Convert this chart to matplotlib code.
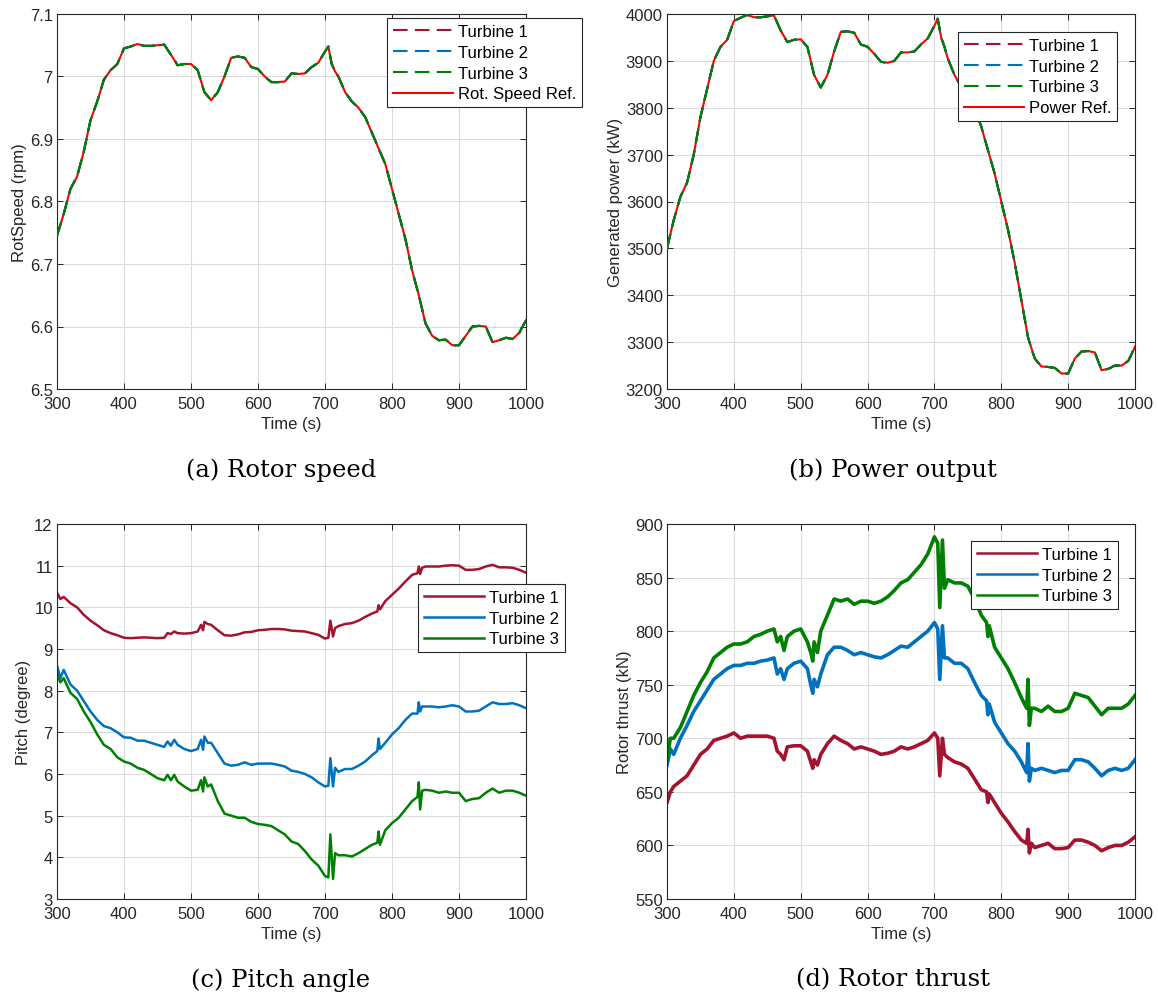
import numpy as np
import matplotlib
matplotlib.use("Agg")
import matplotlib.pyplot as plt

plt.rcParams["font.family"] = ["Liberation Sans", "DejaVu Sans"]

# time grid for rotor speed / power
t_ab = np.array([300, 310, 320, 330, 340, 350, 360, 370, 380, 390,
                 400, 410, 420, 430, 440, 450, 460, 470, 480, 490,
                 500, 510, 520, 530, 540, 550, 560, 570, 580, 590,
                 600, 610, 620, 630, 640, 650, 660, 670, 680, 690,
                 700, 705, 710, 715, 720, 730, 740, 750, 760, 770,
                 780, 790, 800, 810, 820, 830, 840, 850, 860, 870,
                 880, 890, 900, 910, 920, 930, 940, 950, 960, 970,
                 980, 990, 1000])

rot_speed = np.array([6.745, 6.78, 6.82, 6.84, 6.88, 6.93, 6.96, 6.995, 7.01, 7.02,
                      7.045, 7.048, 7.052, 7.049, 7.049, 7.05, 7.051, 7.035, 7.018, 7.02,
                      7.02, 7.01, 6.975, 6.962, 6.975, 7.0, 7.03, 7.032, 7.03, 7.015,
                      7.012, 7.0, 6.991, 6.991, 6.992, 7.005, 7.004, 7.005, 7.015, 7.022,
                      7.04, 7.048, 7.02, 7.008, 7.0, 6.975, 6.96, 6.95, 6.935, 6.91,
                      6.885, 6.86, 6.82, 6.78, 6.74, 6.69, 6.65, 6.605, 6.585, 6.578,
                      6.579, 6.57, 6.57, 6.585, 6.6, 6.601, 6.6, 6.575, 6.578, 6.582,
                      6.58, 6.59, 6.61])

power = np.array([3500, 3560, 3610, 3640, 3700, 3780, 3840, 3900, 3930, 3945,
                  3985, 3992, 3998, 3993, 3993, 3995, 3997, 3965, 3940, 3945,
                  3946, 3930, 3870, 3843, 3870, 3920, 3962, 3963, 3960, 3935,
                  3930, 3915, 3898, 3896, 3900, 3918, 3918, 3920, 3935, 3948,
                  3975, 3990, 3950, 3930, 3905, 3870, 3845, 3825, 3800, 3760,
                  3710, 3660, 3600, 3540, 3470, 3390, 3310, 3265, 3248, 3247,
                  3245, 3233, 3233, 3265, 3280, 3281, 3278, 3240, 3243, 3250,
                  3250, 3260, 3290])

# time grid for pitch / thrust
t_cd = np.array([300, 305, 310, 320, 330, 340, 350, 360, 370, 380,
                 390, 400, 410, 420, 430, 440, 450, 460, 465, 470,
                 475, 480, 490, 500, 510, 515, 518, 520, 525, 530,
                 540, 550, 560, 570, 580, 590, 600, 610, 620, 630,
                 640, 650, 660, 670, 680, 690, 700, 705, 708, 712,
                 715, 720, 730, 740, 750, 760, 770, 778, 780, 782,
                 790, 800, 810, 820, 830, 838, 840, 842, 845, 850,
                 860, 870, 880, 890, 900, 910, 920, 930, 940, 950,
                 960, 970, 980, 990, 1000])

pitch1 = [10.35, 10.2, 10.25, 10.1, 10.0, 9.82, 9.68, 9.57, 9.45, 9.38,
          9.33, 9.27, 9.26, 9.27, 9.28, 9.27, 9.26, 9.27, 9.38, 9.36,
          9.42, 9.38, 9.37, 9.38, 9.42, 9.58, 9.45, 9.65, 9.6, 9.58,
          9.45, 9.33, 9.32, 9.35, 9.4, 9.41, 9.45, 9.46, 9.48, 9.48,
          9.47, 9.44, 9.43, 9.42, 9.38, 9.34, 9.25, 9.27, 9.68, 9.3,
          9.5, 9.55, 9.6, 9.62, 9.68, 9.77, 9.85, 9.9, 10.05, 9.95,
          10.15, 10.3, 10.45, 10.62, 10.78, 10.82, 10.98, 10.8, 10.95, 10.98,
          10.98, 10.98, 11.0, 11.01, 11.0, 10.9, 10.9, 10.92, 10.98, 11.02,
          10.96, 10.96, 10.95, 10.9, 10.83]
pitch2 = [8.6, 8.3, 8.5, 8.15, 8.0, 7.75, 7.5, 7.3, 7.15, 7.1,
          7.0, 6.88, 6.87, 6.8, 6.8, 6.75, 6.7, 6.65, 6.78, 6.68,
          6.82, 6.7, 6.6, 6.55, 6.6, 6.82, 6.58, 6.9, 6.75, 6.75,
          6.5, 6.25, 6.2, 6.22, 6.28, 6.22, 6.25, 6.25, 6.25, 6.22,
          6.18, 6.08, 6.05, 6.0, 5.92, 5.8, 5.7, 5.72, 6.38, 5.7,
          6.15, 6.05, 6.12, 6.12, 6.2, 6.3, 6.45, 6.55, 6.85, 6.6,
          6.75, 6.95, 7.1, 7.3, 7.45, 7.45, 7.72, 7.5, 7.62, 7.62,
          7.62, 7.6, 7.62, 7.65, 7.62, 7.5, 7.5, 7.52, 7.62, 7.72,
          7.68, 7.68, 7.7, 7.65, 7.58]
pitch3 = [8.4, 8.2, 8.3, 7.95, 7.8, 7.5, 7.25, 6.95, 6.7, 6.6,
          6.4, 6.3, 6.25, 6.15, 6.1, 6.0, 5.9, 5.85, 5.98, 5.85,
          5.98, 5.82, 5.7, 5.6, 5.62, 5.85, 5.58, 5.92, 5.7, 5.75,
          5.35, 5.05, 5.0, 4.95, 4.95, 4.85, 4.8, 4.78, 4.75, 4.65,
          4.55, 4.38, 4.32, 4.15, 3.95, 3.8, 3.55, 3.52, 4.55, 3.48,
          4.1, 4.05, 4.05, 4.02, 4.1, 4.2, 4.3, 4.35, 4.62, 4.3,
          4.65, 4.82, 4.95, 5.15, 5.35, 5.45, 5.8, 5.15, 5.6, 5.62,
          5.6, 5.55, 5.58, 5.55, 5.55, 5.35, 5.4, 5.42, 5.55, 5.65,
          5.55, 5.6, 5.6, 5.55, 5.48]

thrust1 = [640, 650, 655, 660, 665, 675, 685, 690, 698, 700,
           702, 705, 700, 702, 702, 702, 702, 700, 688, 685,
           680, 692, 693, 693, 688, 678, 672, 680, 675, 685,
           695, 702, 698, 695, 690, 692, 690, 688, 685, 686,
           688, 692, 690, 692, 695, 698, 705, 700, 665, 700,
           685, 682, 678, 676, 672, 662, 652, 650, 640, 648,
           640, 630, 622, 613, 605, 602, 615, 593, 602, 598,
           600, 602, 597, 597, 598, 605, 605, 603, 600, 595,
           598, 600, 600, 603, 608]
thrust2 = [675, 690, 685, 700, 712, 725, 735, 745, 755, 760,
           765, 768, 768, 770, 770, 772, 773, 775, 760, 765,
           755, 765, 770, 772, 765, 750, 742, 755, 748, 760,
           778, 785, 785, 782, 778, 780, 778, 776, 775, 778,
           782, 786, 785, 790, 795, 800, 808, 802, 755, 805,
           775, 775, 770, 770, 765, 752, 740, 735, 722, 732,
           715, 705, 695, 688, 678, 668, 695, 660, 672, 670,
           672, 670, 668, 670, 670, 680, 680, 678, 672, 665,
           670, 672, 670, 672, 680]
thrust3 = [680, 700, 700, 710, 725, 740, 752, 762, 775, 780,
           785, 788, 788, 790, 795, 797, 800, 802, 790, 795,
           782, 795, 800, 802, 790, 780, 772, 790, 780, 800,
           815, 830, 828, 830, 825, 828, 828, 826, 828, 832,
           838, 845, 848, 855, 862, 872, 888, 882, 822, 885,
           840, 848, 845, 845, 842, 830, 815, 808, 795, 805,
           785, 775, 765, 752, 738, 728, 755, 712, 728, 728,
           725, 730, 725, 725, 728, 742, 740, 738, 730, 722,
           728, 728, 728, 732, 740]

turbines = ["Turbine 1", "Turbine 2", "Turbine 3"]
colors = ["#A2142F", "#0072BD", "#008000"]

W, H = 1158, 995
fig = plt.figure(figsize=(W / 100, H / 100), dpi=100)


def make_ax(x0, y0, x1, y1):
    ax = fig.add_axes([x0 / W, 1 - y1 / H, (x1 - x0) / W, (y1 - y0) / H])
    ax.grid(True, color="#dcdcdc", lw=0.8)
    ax.set_axisbelow(True)
    ax.tick_params(direction="in", top=True, right=True, labelsize=12,
                   length=4, colors="#262626", width=0.7)
    ax.tick_params(axis="x", pad=5)
    ax.tick_params(axis="y", pad=3)
    for s in ax.spines.values():
        s.set_color("#262626")
        s.set_linewidth(0.8)
    ax.set_xlim(300, 1000)
    ax.set_xticks(range(300, 1001, 100))
    ax.set_xlabel("Time (s)", fontsize=12, labelpad=4, color="#262626")
    return ax


def style_legend(ax, anchor):
    leg = ax.legend(loc="upper right", bbox_to_anchor=anchor, fontsize=12,
                    fancybox=False, framealpha=1, edgecolor="#262626",
                    handlelength=3.6, handletextpad=0.3, borderpad=0.35,
                    borderaxespad=0, labelspacing=0.35)
    leg.get_frame().set_linewidth(0.8)
    return leg


DASH = (7, 3.5)

# (a) rotor speed
ax = make_ax(57, 15, 526, 390)
ax.plot(t_ab, rot_speed, color="red", lw=1.5, zorder=2, label="_ref")
for name, c in zip(turbines, colors):
    ax.plot(t_ab, rot_speed, color=c, lw=1.5, dashes=DASH, label=name, zorder=3)
ax.plot([], [], color="red", lw=1.5, label="Rot. Speed Ref.")
ax.set_ylim(6.5, 7.1)
ax.set_yticks([6.5, 6.6, 6.7, 6.8, 6.9, 7.0, 7.1])
ax.set_yticklabels(["6.5", "6.6", "6.7", "6.8", "6.9", "7", "7.1"])
ax.set_ylabel("RotSpeed (rpm)", fontsize=12, labelpad=2, color="#262626")
style_legend(ax, (1.12, 0.989))

# (b) power
ax = make_ax(667, 15, 1135, 390)
ax.plot(t_ab, power, color="red", lw=1.5, zorder=2, label="_ref")
for name, c in zip(turbines, colors):
    ax.plot(t_ab, power, color=c, lw=1.5, dashes=DASH, label=name, zorder=3)
ax.plot([], [], color="red", lw=1.5, label="Power Ref.")
ax.set_ylim(3200, 4000)
ax.set_yticks(range(3200, 4001, 100))
ax.set_ylabel("Generated power (kW)", fontsize=12, labelpad=2, color="#262626")
style_legend(ax, (0.962, 0.952))

# (c) pitch
ax = make_ax(57, 525, 526, 900)
for name, c, y in zip(turbines, colors, [pitch1, pitch2, pitch3]):
    ax.plot(t_cd, y, color=c, lw=1.8, label=name)
ax.set_ylim(3, 12)
ax.set_yticks(range(3, 13))
ax.set_ylabel("Pitch (degree)", fontsize=12, labelpad=2, color="#262626")
style_legend(ax, (1.083, 0.84))

# (d) thrust
ax = make_ax(667, 525, 1135, 900)
for name, c, y in zip(turbines, colors, [thrust1, thrust2, thrust3]):
    ax.plot(t_cd, y, color=c, lw=2.6, label=name)
ax.set_ylim(550, 900)
ax.set_yticks(range(550, 901, 50))
ax.set_ylabel("Rotor thrust (kN)", fontsize=12, labelpad=2, color="#262626")
leg = style_legend(ax, (0.964, 0.955))
for h in leg.get_lines():
    h.set_linewidth(1.8)

# captions
cap = dict(fontsize=17.5, family=["DejaVu Serif"], ha="center", va="center")
fig.text(281 / W, 1 - 470 / H, "(a) Rotor speed", **cap)
fig.text(893 / W, 1 - 470 / H, "(b) Power output", **cap)
fig.text(281 / W, 1 - 980 / H, "(c) Pitch angle", **cap)
fig.text(893 / W, 1 - 980 / H, "(d) Rotor thrust", **cap)

fig.savefig("out.png", dpi=100)
